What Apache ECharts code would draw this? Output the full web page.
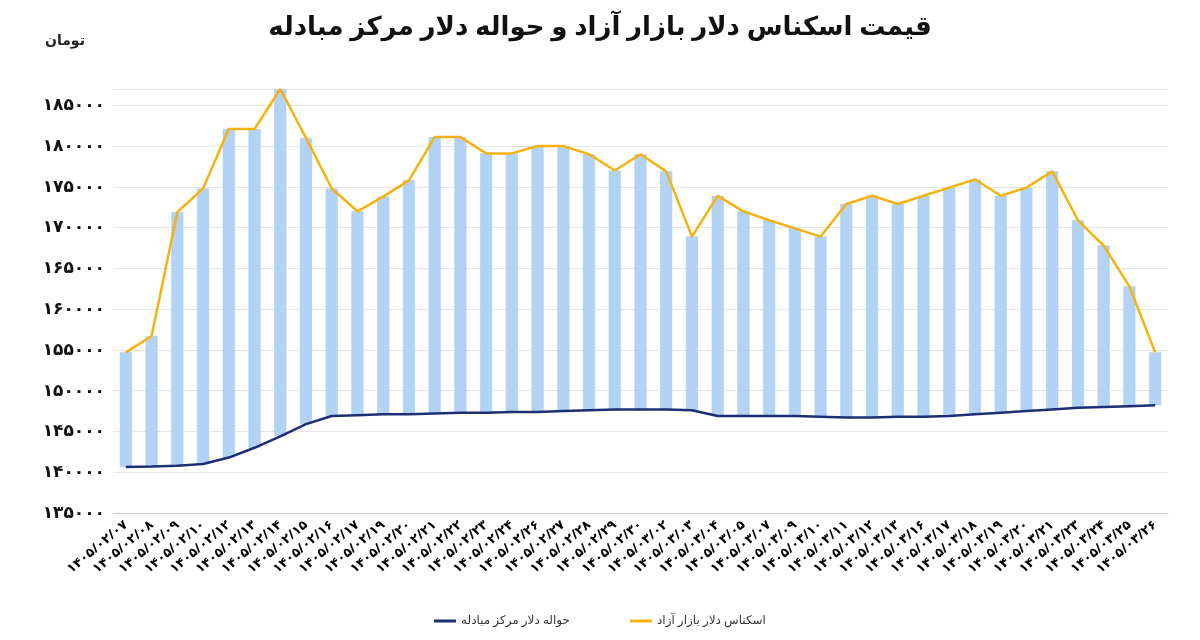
<!DOCTYPE html>
<html>
<head>
<meta charset="utf-8">
<script src="https://cdn.jsdelivr.net/npm/echarts@6/dist/echarts.min.js"></script>
<style>body{margin:0}#main{width:1200px;height:640px}</style>
</head>
<body>
<div id="main"></div>
<script>
// تاریخ ها
const dates = ["1405/02/07","1405/02/08","1405/02/09","1405/02/10","1405/02/12","1405/02/13","1405/02/14","1405/02/15","1405/02/16","1405/02/17","1405/02/19","1405/02/20","1405/02/21","1405/02/22","1405/02/23","1405/02/24","1405/02/26","1405/02/27","1405/02/28","1405/02/29","1405/02/30",
  "1405/03/02","1405/03/03","1405/03/04","1405/03/05","1405/03/07","1405/03/09","1405/03/10","1405/03/11","1405/03/12","1405/03/13","1405/03/16","1405/03/17","1405/03/18","1405/03/19","1405/03/20","1405/03/21","1405/03/23","1405/03/24","1405/03/25","1405/03/26"];
// اسکناس دلار بازار آزاد
const freeMarket = [154700,156700,171900,174800,182100,182100,187000,181000,174800,172000,173800,175800,181100,181100,179100,179100,180000,180000,179000,177000,179000,176900,168900,173900,172000,170900,169900,168900,172900,173900,172900,173900,174900,175900,173900,174900,176900,170900,167800,162800,154700];
// حواله دلار مرکز مبادله
const exchangeCenter = [140640,140700,140800,141000,141800,143000,144400,145900,146900,147000,147100,147100,147200,147300,147300,147400,147400,147500,147600,147700,147700,147700,147600,146900,146900,146900,146900,146800,146700,146700,146800,146800,146900,147100,147300,147500,147700,147900,148000,148100,148200];

const faDigits = s => String(s).replace(/\d/g, d => "۰۱۲۳۴۵۶۷۸۹"[d]);
const diff = freeMarket.map((v, i) => v - exchangeCenter[i]);

let myChart = echarts.init(document.getElementById("main"));
const font = "'Noto Sans', 'DejaVu Sans', sans-serif";
option = {
  animation: false,
  textStyle: { fontFamily: font },
  title: {
    text: "قیمت اسکناس دلار بازار آزاد و حواله دلار مرکز مبادله",
    left: "center",
    top: 10,
    textStyle: { fontSize: 26, fontWeight: "bold", color: "#111" }
  },
  graphic: [{
    type: "text", left: 45, top: 34,
    style: { text: "تومان", fontSize: 14, fontWeight: "bold", fill: "#222", fontFamily: font }
  }],
  legend: {
    bottom: 8,
    left: "center",
    data: ["حواله دلار مرکز مبادله", "اسکناس دلار بازار آزاد"],
    icon: "rect", itemWidth: 22, itemHeight: 3, itemGap: 60,
    textStyle: { fontSize: 12, color: "#333" }
  },
  grid: { left: 113, right: 32, top: 89, bottom: 127 },
  xAxis: {
    type: "category",
    data: dates,
    axisLine: { lineStyle: { color: "#ccc" } },
    axisTick: { show: false },
    axisLabel: {
      interval: 0, rotate: 40, fontSize: 13, fontWeight: "bold", color: "#000", margin: 10,
      formatter: v => faDigits(v)
    }
  },
  yAxis: {
    type: "value",
    min: 135000, max: 187000, interval: 5000,
    axisLine: { show: false },
    axisTick: { show: false },
    splitLine: { lineStyle: { color: "#e6e6e6" } },
    axisLabel: { fontSize: 17, fontWeight: "bold", color: "#111", formatter: v => faDigits(v), showMaxLabel: false }
  },
  series: [
    {
      name: "base", type: "bar", stack: "s", data: exchangeCenter,
      itemStyle: { color: "rgba(0,0,0,0)" }, barWidth: 12, silent: true
    },
    {
      name: "diff", type: "bar", stack: "s", data: diff,
      itemStyle: { color: "#b3d3f6", borderColor: "#a5c8ef", borderWidth: 0.5 }, barWidth: 12
    },
    {
      name: "اسکناس دلار بازار آزاد", type: "line", data: freeMarket,
      symbol: "none", lineStyle: { color: "#f6b20e", width: 2.5 }, itemStyle: { color: "#f6b20e" }
    },
    {
      name: "حواله دلار مرکز مبادله", type: "line", data: exchangeCenter,
      symbol: "none", lineStyle: { color: "#1c2f72", width: 2.5 }, itemStyle: { color: "#1c2f72" }
    }
  ]
};
myChart.setOption(option);
</script>
</body>
</html>
